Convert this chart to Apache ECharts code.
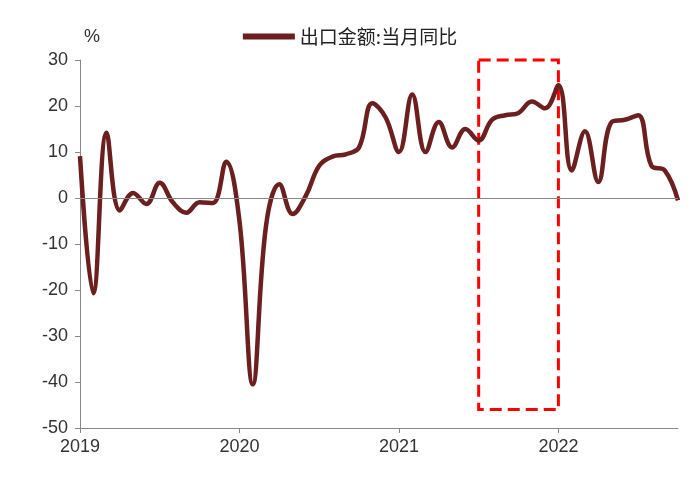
<!DOCTYPE html>
<html><head><meta charset="utf-8">
<script src="https://cdn.jsdelivr.net/npm/echarts@6/dist/echarts.min.js"></script>
<style>html,body{margin:0;padding:0;background:#fff}#c{width:700px;height:483px}</style>
</head><body><div id="c"></div>
<script>
const months=[];for(let y=2019;y<=2022;y++)for(let m=1;m<=12;m++){if(y===2022&&m>10)break;months.push(y+'-'+String(m).padStart(2,'0'));}
const values=[9.1,-20.7,14.2,-2.7,1.1,-1.3,3.3,-1.0,-3.2,-0.9,-1.1,7.9,
-5,-40.5,-6,3,-3.5,0.5,7,9,9.5,11,20.6,17.5,
10,22.5,10,16.5,11,15,12.5,17,18,18.5,21,19.5,
24.5,6,14.5,3.5,16.5,17,18,7,6,-0.5];
const yTicks=[-50,-40,-30,-20,-10,0,10,20,30];
const chart=echarts.init(document.getElementById('c'));
const font='Liberation Sans, Arial, sans-serif';
chart.setOption({
 animation:false,
 grid:{left:80,right:22,top:60,bottom:55},
 legend:{top:22,left:'center',icon:'rect',itemWidth:52,itemHeight:6,textStyle:{fontSize:19,color:'#222',fontFamily:'Noto Sans CJK SC'},data:['出口金额:当月同比']},
 xAxis:{type:'category',data:months,boundaryGap:false,
  axisLine:{onZero:false,lineStyle:{color:'#888'}},
  axisTick:{interval:(i)=>i%12===0,length:5,lineStyle:{color:'#888'}},
  axisLabel:{interval:(i)=>i%12===0,formatter:v=>v.slice(0,4),fontSize:18,color:'#333',fontFamily:font,margin:10}},
 yAxis:{type:'value',min:-50,max:30,interval:10,name:'%',nameGap:14,nameTextStyle:{fontSize:18,color:'#333',align:'right',padding:[0,-20,0,0]},
  axisLine:{show:true,lineStyle:{color:'#888'}},axisTick:{show:true,length:5,lineStyle:{color:'#888'}},splitLine:{show:false},
  axisLabel:{fontSize:18,color:'#333',fontFamily:font,margin:12}},
 series:[{name:'出口金额:当月同比',type:'line',data:values,smooth:0.4,symbol:'none',lineStyle:{width:4.5,color:'#6B1F1F'},itemStyle:{color:'#6B1F1F'},
  markLine:{silent:true,symbol:'none',label:{show:false},lineStyle:{color:'#888',type:'solid',width:1},data:[{yAxis:0}]},
  markArea:{silent:true,itemStyle:{color:'rgba(0,0,0,0)',borderColor:'#FF0000',borderWidth:3,borderType:'dashed'},
   data:[[{xAxis:'2021-07',yAxis:30},{xAxis:'2022-01',yAxis:-46}]]}}]
});
</script></body></html>
